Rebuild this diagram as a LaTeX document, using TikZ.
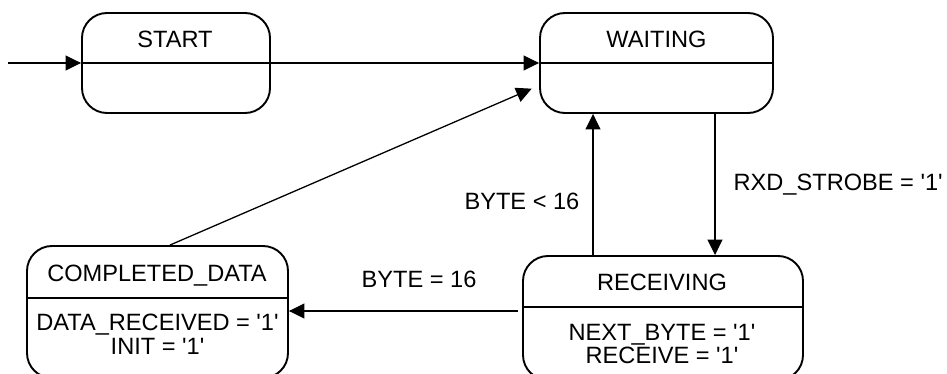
\documentclass[tikz,border=0pt]{standalone}
\usepackage{fontspec}
\setmainfont{Liberation Sans}[Ligatures=TeXOff]
\usetikzlibrary{arrows.meta,calc}

\tikzset{
  state/.style={draw, line width=1.9pt, rounded corners=25pt, inner sep=0pt},
  divider/.style={line width=1.3pt},
  conn/.style={line width=1.3pt, -{Triangle[length=15.5pt,width=15pt]}},
  txt/.style={inner sep=0pt, font=\fontsize{23.6}{27}\selectfont},
}

\begin{document}
\begin{tikzpicture}[x=1pt, y=-1pt]
  \useasboundingbox (0,0) rectangle (947,374);
  \clip (0,0) rectangle (947,374);

  % states
  \node[state, minimum width=188pt, minimum height=100pt] (start) at (176,63) {};
  \node[state, minimum width=233pt, minimum height=100pt] (waiting) at (656.5,63) {};
  \node[state, minimum width=261pt, minimum height=132pt] (completed) at (157.5,312) {};
  \node[state, minimum width=280pt, minimum height=124pt] (receiving) at (663,318) {};

  % compartment lines
  \draw[divider] (start.west) -- (start.east);
  \draw[divider] (waiting.west) -- (waiting.east);
  \draw[divider] ([yshift=14pt]completed.west) -- ([yshift=14pt]completed.east);
  \draw[divider] ([yshift=11pt]receiving.west) -- ([yshift=11pt]receiving.east);

  % state names and actions
  \node[txt, anchor=base] (startT) at (175,48) {START};
  \node[txt, anchor=base] (waitingT) at (656.5,48) {WAITING};
  \node[txt, anchor=base] (completedT) at (157,281.5) {COMPLETED\_DATA};
  \node[txt, anchor=base] (completedA1) at (157.5,330) {DATA\_RECEIVED = '1'};
  \node[txt, anchor=base] (completedA2) at (157.5,354) {INIT = '1'};
  \node[txt, anchor=base] (receivingT) at (662,290.5) {RECEIVING};
  \node[txt, anchor=base] (receivingA1) at (662,340) {NEXT\_BYTE = '1'};
  \node[txt, anchor=base] (receivingA2) at (662,363) {RECEIVE = '1'};

  % transitions
  \coordinate (entry) at (8,63);
  \draw[conn] (entry) -- (start.west);
  \draw[conn] (start.east) -- (waiting.west);
  \draw[conn, shorten >=8pt] ([xshift=12.5pt]completed.north) -- ([yshift=-22.5pt]waiting.west);
  \draw[conn] ([xshift=58.5pt]waiting.south) -- ([xshift=58.5pt]waiting.south |- receiving.north)
    node[txt, pos=0.543, anchor=base west, xshift=18pt] (lblStrobe) {RXD\_STROBE = '1'};
  \draw[conn] ([xshift=-70pt]receiving.north) -- ([xshift=-70pt]receiving.north |- waiting.south)
    node[txt, pos=0.326, anchor=base east, xshift=-13pt] (lblLess) {BYTE < 16};
  \draw[conn, shorten <=4pt] ([yshift=7pt]receiving.west) -- ([yshift=7pt]receiving.west -| completed.east)
    node[txt, pos=0.193, anchor=base east, yshift=24pt] (lblEq) {BYTE = 16};
\end{tikzpicture}
\end{document}
